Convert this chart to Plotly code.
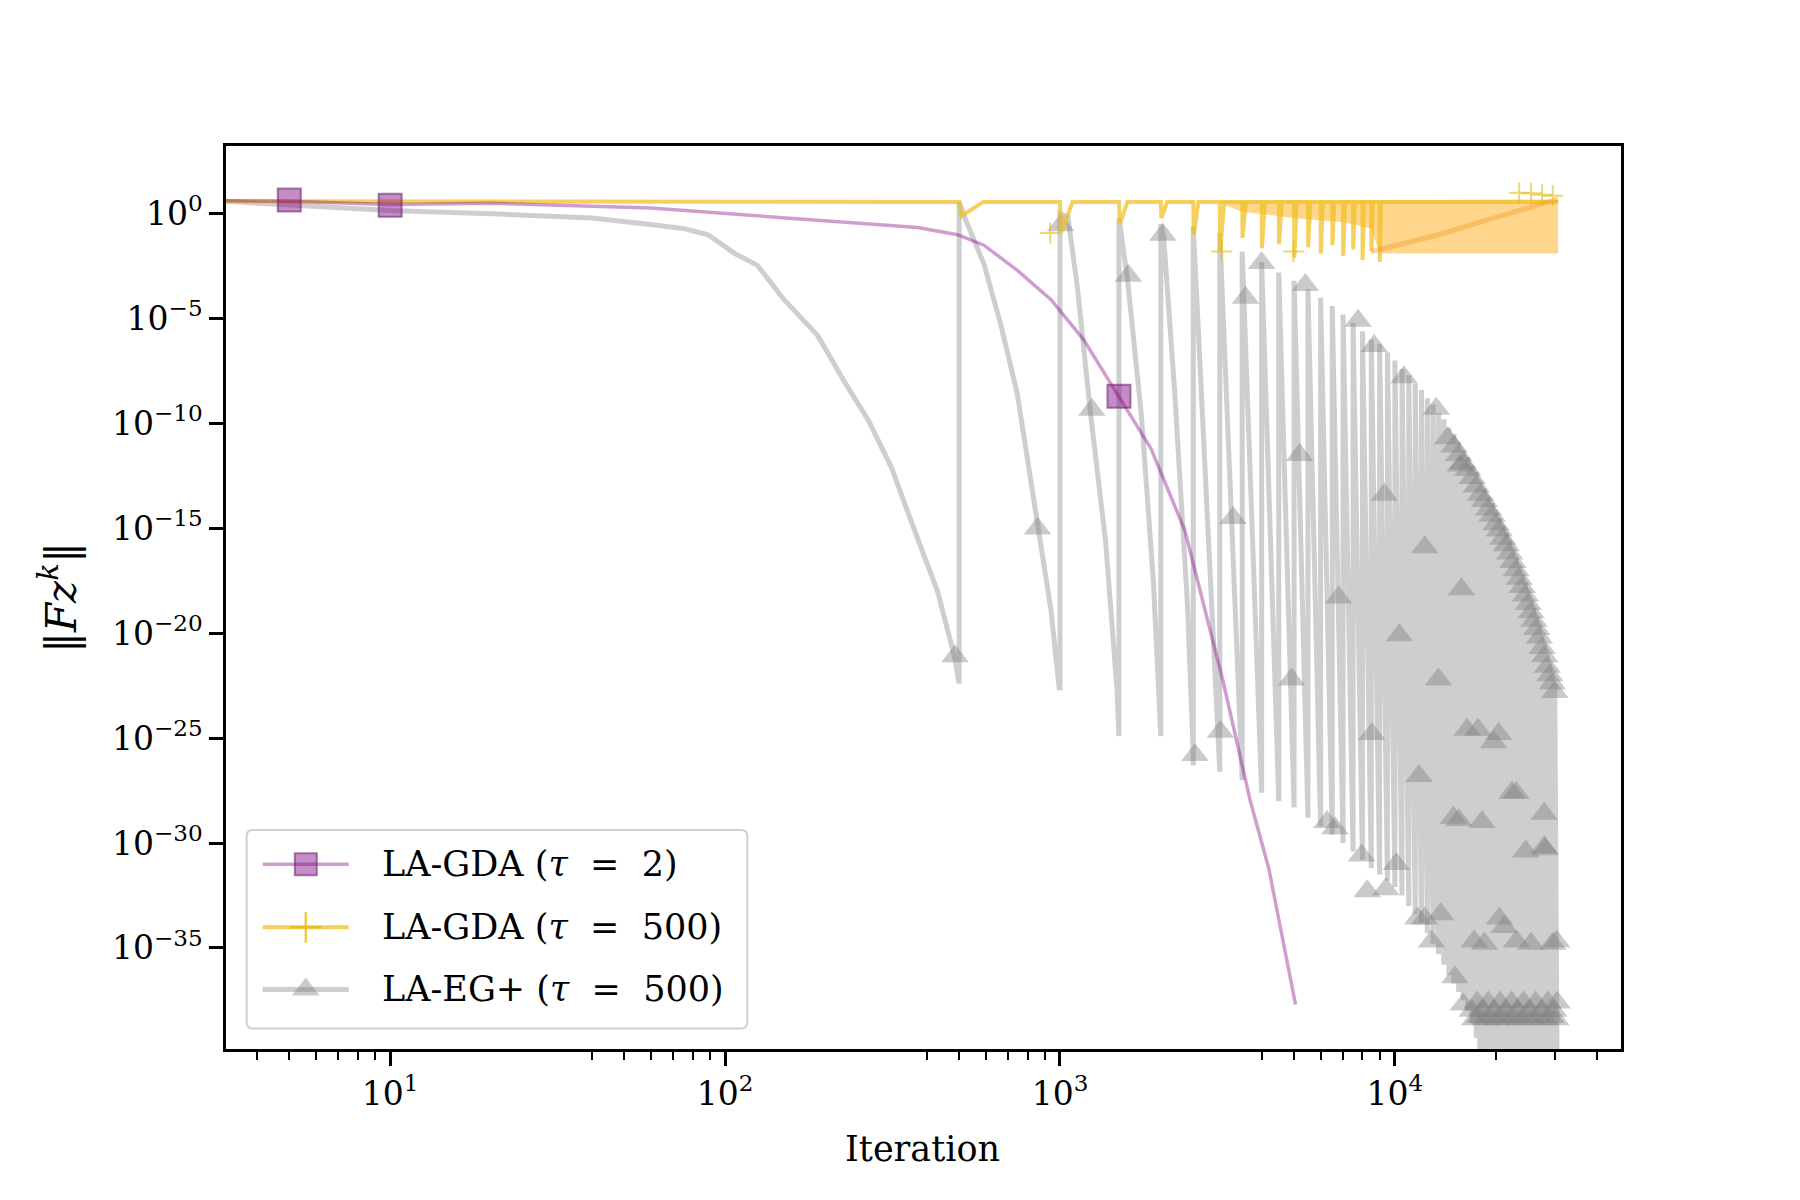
import plotly.graph_objects as go

SERIF = "DejaVu Serif, Liberation Serif, serif"

# ---- LA-GDA (tau = 2) : smooth decay, values as log10 ----
GDA2_X = [3, 5, 10, 20, 60, 118, 237, 376, 494, 593, 746, 940, 1176, 1488,
          1870, 2360, 2620, 3070, 3700, 4200, 5050]
GDA2_LOG10 = [0.62, 0.6, 0.44, 0.5, 0.27, -0.06, -0.4, -0.66, -1.0, -1.5, -2.7,
              -4.1, -6.0, -8.6, -11.2, -15.1, -18.0, -22.3, -28.0, -31.2, -37.7]
GDA2_MARK_X = [5, 10, 1500]
GDA2_MARK_LOG10 = [0.65, 0.4, -8.7]

# ---- LA-GDA (tau = 500) : flat, with a dip at every look-ahead restart ----
GDA500_START = [3, 0.6]
GDA500_TOP_LOG10 = 0.56
GDA500_END_X = 30700
GDA500_DIP_X = [500, 1000, 1500, 2000, 2500, 3000, 3500, 4000, 4500, 5000,
                5500, 6000, 6500, 7000, 7500, 8000, 8500, 9000]
GDA500_DIP_LOG10 = [-0.1, -0.9, -0.5, -0.2, -1.0, -1.8, -1.15, -1.65, -1.45, -2.1,
                    -1.6, -1.9, -1.5, -2.0, -1.7, -2.2, -1.8, -2.3]
# dense oscillation band at the end of the run
BAND_X = [3000, 3500, 5000, 7000, 8500, 9000, 12000, 20000, 30700]
BAND_HI_LOG10 = [0.62, 0.63, 0.64, 0.64, 0.64, 0.65, 0.66, 0.66, 0.68]
BAND_LO_LOG10 = [0.5, 0.1, -0.2, -0.4, -0.7, -1.9, -1.9, -1.9, -1.9]
TREND_X = [8500, 13500, 19800, 30700]
TREND_LOG10 = [-1.8, -1.0, -0.2, 0.7]
GDA500_MARK_X = [935, 3040, 4980, 23500, 25500, 27500, 29600]
GDA500_MARK_LOG10 = [-0.92, -1.8, -1.8, 1.0, 0.98, 0.9, 0.86]

# ---- LA-EG+ (tau = 500) : first cycles ----
EG_HEAD_X = [3, 10, 20, 40, 59, 75, 89, 107, 125, 150, 189, 227, 268, 314, 376, 431, 484, 498,
             500, 500, 519, 593, 666, 746, 860, 940, 994,
             1000, 1000, 1056, 1129, 1230, 1368, 1480,
             1500, 1500, 1590, 1750, 1900, 1990,
             2000, 2000, 2040, 2200, 2400, 2490]
EG_HEAD_LOG10 = [0.62, 0.15, 0.0, -0.2, -0.5, -0.7, -1.0, -1.9, -2.46, -4.1, -5.8, -8.0, -9.85,
                 -12.1, -15.5, -18.0, -21.1, -22.3,
                 -22.4, 0.55, -0.16, -2.4, -5.3, -8.6, -14.8, -18.9, -22.6,
                 -22.7, 0.0, -0.16, -3.6, -9.35, -15.6, -22.7,
                 -24.9, -0.2, -3.1, -9.6, -17.5, -23.5,
                 -24.9, -0.5, -1.15, -8.5, -18.5, -25.0]
# later cycles: value just after each restart (peak) and just before it (trough)
EG_RESTART_X = [2500, 3000, 3500, 4000, 4500, 5000, 5500, 6000, 6500, 7000,
                7500, 8000, 8500, 9000, 9500, 10000, 10500, 11000, 11500, 12000,
                12500, 13000, 13500, 14000, 14500, 15000, 15500, 16000, 16500, 17000,
                17500, 18000, 18500, 19000, 19500, 20000, 20500, 21000, 21500, 22000,
                22500, 23000, 23500, 24000, 24500, 25000, 25500, 26000, 26500, 27000,
                27500, 28000, 28500, 29000, 29500, 30000]
EG_PEAK_LOG10 = [-0.6, -0.9, -1.8, -2.3, -2.8, -3.2, -3.6, -4.0, -4.4, -4.8,
                 -5.2, -5.6, -6.0, -6.2, -6.6, -7.0, -7.4, -7.7, -8.1, -8.4,
                 -8.8, -9.1, -9.5, -9.8, -10.2, -10.5, -10.9, -11.3, -11.6, -12.0,
                 -12.3, -12.8, -13.1, -13.5, -13.8, -14.2, -14.5, -14.9, -15.2, -15.6,
                 -16.0, -16.4, -16.8, -17.2, -17.6, -18.0, -18.4, -18.8, -19.2, -19.6,
                 -20.1, -20.5, -21.0, -21.4, -21.9, -22.4]
EG_TROUGH_LOG10 = [-26.3, -26.6, -27.0, -27.6, -28.0, -28.3, -28.8, -29.2, -29.6, -30.0,
                   -30.4, -30.8, -31.2, -31.5, -31.8, -32.1, -32.5, -33.0, -33.4, -33.8,
                   -34.3, -34.8, -35.3, -35.8, -36.3, -36.7, -37.1, -37.5, -38.0, -38.6,
                   -39.3, -45, -45, -45, -45, -45, -45, -45, -45, -45,
                   -45, -45, -45, -45, -45, -45, -45, -45, -45, -45,
                   -45, -45, -45, -45, -45, -45]
EG_END = [30600, -45]
EG_MARK_X = [486, 857, 1245, 1005, 1600, 2028, 2530, 3013, 3284, 3580,
             4000, 4910, 5190, 5400, 6270, 6625, 6790, 7760, 7950, 8270,
             8530, 8670, 9300, 9400, 10100, 10310, 10640, 11700, 11800, 12270,
             12270, 12860, 13280, 13490, 13700, 14360, 14950, 15100, 15500, 15670,
             15790, 16000, 16430, 17230, 17700, 18200, 18500, 19700, 20400, 20500,
             21200, 22350, 23000, 23070, 24570, 25500, 27900, 27900, 28100, 29600, 30410,
             # dense run along the upper right edge
             15000, 15500, 16000, 16500, 17000, 17500, 18000, 18500, 19000, 19500,
             20000, 20500, 21000, 21500, 22000, 22500, 23000, 23500, 24000, 24500,
             25000, 25500, 26000, 26500, 27000, 27500, 28000, 28500, 29000, 29500, 30000,
             # dense run at the bottom
             17000, 17600, 18300, 19000, 19800, 20600, 21400, 22300, 23200, 24200,
             25200, 26300, 27400, 28600, 29800, 30500,
             17300, 17900, 18600, 19400, 20200, 21000, 21800, 22700, 23700, 24700,
             25700, 26800, 28000, 29200, 30200]
EG_MARK_LOG10 = [-21.1, -15.0, -9.35, -0.55, -2.95, -1.0, -25.8, -24.7, -14.5, -4.0,
                 -2.35, -22.2, -11.5, -3.4, -29.0, -29.3, -18.3, -5.1, -30.6, -32.3,
                 -24.8, -6.3, -13.4, -32.2, -31.0, -20.1, -7.8, -33.6, -26.8, -15.9,
                 -33.6, -34.7, -9.3, -22.2, -33.4, -10.7, -28.8, -36.4, -28.9, -12.0,
                 -17.9, -37.7, -24.6, -34.7, -24.6, -29.0, -34.8, -25.2, -24.8, -33.6,
                 -34.0, -27.6, -27.6, -34.7, -30.4, -34.8, -28.6, -30.2, -30.3, -34.8, -34.7,
                 -11.1, -11.5, -11.9, -12.2, -12.6, -13.0, -13.4, -13.7, -14.1, -14.4,
                 -14.8, -15.1, -15.5, -15.8, -16.2, -16.6, -17.0, -17.4, -17.8, -18.2,
                 -18.6, -19.0, -19.4, -19.8, -20.2, -20.7, -21.1, -21.6, -22.0, -22.4, -22.8,
                 -38.0, -37.6, -38.0, -37.6, -38.0, -37.6, -38.0, -37.6, -38.0, -37.6,
                 -38.0, -37.6, -38.0, -37.6, -38.0, -37.6,
                 -38.4, -38.3, -38.4, -38.3, -38.4, -38.3, -38.4, -38.3, -38.4, -38.3,
                 -38.4, -38.3, -38.4, -38.3, -38.4]

LEGEND_LABELS = ["LA-GDA (<i>τ</i>\u00a0 = \u00a02)",
                 "LA-GDA (<i>τ</i>\u00a0 = \u00a0500)",
                 "LA-EG+ (<i>τ</i>\u00a0 = \u00a0500)"]

PURPLE_LINE = "rgba(128,0,128,0.38)"
PURPLE_MARK = "rgba(128,0,128,0.45)"
PURPLE_EDGE = "rgba(110,40,110,0.6)"
ORANGE_LINE = "rgba(240,190,30,0.72)"
ORANGE_BAND = "rgba(255,165,0,0.45)"
ORANGE_MARK = "rgba(225,190,20,0.75)"
GREY_LINE = "rgba(135,138,142,0.42)"
GREY_MARK = "rgba(128,128,132,0.42)"


def pow10(vals):
    return [10 ** v for v in vals]


# build the LA-EG+ path: head, then vertical restart + descent for each later cycle
eg_x = list(EG_HEAD_X)
eg_log = list(EG_HEAD_LOG10)
for rx, pk, tr in zip(EG_RESTART_X, EG_PEAK_LOG10, EG_TROUGH_LOG10):
    eg_x += [rx, rx]
    eg_log += [tr, pk]
eg_x.append(EG_END[0])
eg_log.append(EG_END[1])

# build the LA-GDA (tau=500) path with its restart dips
or_x = [GDA500_START[0]]
or_log = [GDA500_START[1]]
for rx, d in zip(GDA500_DIP_X, GDA500_DIP_LOG10):
    or_x += [rx, rx + 8, rx + 90]
    or_log += [GDA500_TOP_LOG10, d, GDA500_TOP_LOG10]
or_x.append(GDA500_END_X)
or_log.append(GDA500_TOP_LOG10)

fig = go.Figure()
skip = dict(showlegend=False, hoverinfo="skip")

fig.add_trace(go.Scatter(x=eg_x, y=pow10(eg_log), mode="lines",
                         line=dict(color=GREY_LINE, width=5), **skip))
fig.add_trace(go.Scatter(
    x=EG_MARK_X, y=pow10(EG_MARK_LOG10), mode="markers",
    marker=dict(symbol="triangle-up", size=24, color=GREY_MARK, line=dict(width=0)), **skip))

fig.add_trace(go.Scatter(
    x=BAND_X + BAND_X[::-1], y=pow10(BAND_HI_LOG10 + BAND_LO_LOG10[::-1]),
    mode="lines", fill="toself", fillcolor=ORANGE_BAND, line=dict(width=0), **skip))
fig.add_trace(go.Scatter(x=or_x, y=pow10(or_log), mode="lines",
                         line=dict(color=ORANGE_LINE, width=4), **skip))
fig.add_trace(go.Scatter(x=TREND_X, y=pow10(TREND_LOG10), mode="lines",
                         line=dict(color="rgba(245,160,40,0.45)", width=5), **skip))
fig.add_trace(go.Scatter(
    x=GDA500_MARK_X, y=pow10(GDA500_MARK_LOG10), mode="markers",
    marker=dict(symbol="cross-thin", size=15, line=dict(color="rgba(225,190,20,0.6)", width=2)),
    **skip))

fig.add_trace(go.Scatter(x=GDA2_X, y=pow10(GDA2_LOG10), mode="lines",
                         line=dict(color=PURPLE_LINE, width=3.5), **skip))
fig.add_trace(go.Scatter(
    x=GDA2_MARK_X, y=pow10(GDA2_MARK_LOG10), mode="markers",
    marker=dict(symbol="square", size=23, color=PURPLE_MARK, line=dict(color=PURPLE_EDGE, width=2)),
    **skip))

# ---- hand-drawn legend (matplotlib style) on an overlay axis in [0, 1] ----
leg_rows = [0.2045, 0.1347, 0.0660]
leg_line = [0.0263, 0.0880]
leg_mark = 0.0572
leg_styles = [
    (dict(color=PURPLE_LINE, width=3.5),
     dict(symbol="square", size=22, color=PURPLE_MARK, line=dict(color=PURPLE_EDGE, width=2))),
    (dict(color=ORANGE_LINE, width=4),
     dict(symbol="cross-thin", size=22, line=dict(color=ORANGE_MARK, width=2.5))),
    (dict(color=GREY_LINE, width=5),
     dict(symbol="triangle-up", size=24, color=GREY_MARK)),
]
for row, (ln, mk), label in zip(leg_rows, leg_styles, LEGEND_LABELS):
    fig.add_trace(go.Scatter(x=leg_line, y=[row, row], mode="lines", line=ln,
                             xaxis="x2", yaxis="y2", **skip))
    fig.add_trace(go.Scatter(x=[leg_mark], y=[row], mode="markers", marker=mk,
                             xaxis="x2", yaxis="y2", **skip))
    fig.add_annotation(text=label, x=0.1103, y=row, xref="paper", yref="paper",
                       xanchor="left", yanchor="middle", showarrow=False,
                       font=dict(family=SERIF, size=35, color="black"))

bx0, bx1, by0, by1 = 0.0148, 0.3737, 0.0227, 0.2426
rx, ry = 0.0045, 0.007
fig.add_shape(
    type="path", xref="paper", yref="paper", layer="below",
    path=(f"M {bx0+rx},{by0} L {bx1-rx},{by0} Q {bx1},{by0} {bx1},{by0+ry} "
          f"L {bx1},{by1-ry} Q {bx1},{by1} {bx1-rx},{by1} L {bx0+rx},{by1} "
          f"Q {bx0},{by1} {bx0},{by1-ry} L {bx0},{by0+ry} Q {bx0},{by0} {bx0+rx},{by0} Z"),
    fillcolor="rgba(255,255,255,0.8)", line=dict(color="#d0d0d0", width=2))

x_minor = [v * d for d in (1, 10, 100, 1000) for v in range(4, 10)] + [20000, 30000, 40000]

fig.update_layout(
    xaxis=dict(
        type="log", range=[0.51, 4.675],
        showline=True, mirror=True, linecolor="black", linewidth=2.5,
        showgrid=False, zeroline=False,
        ticks="outside", ticklen=14, tickwidth=2.5, tickcolor="black",
        tickvals=[10, 100, 1000, 10000],
        ticktext=["10<sup>1</sup>", "10<sup>2</sup>", "10<sup>3</sup>", "10<sup>4</sup>"],
        tickfont=dict(family=SERIF, size=33, color="black"),
        minor=dict(ticks="outside", ticklen=8, tickwidth=2, tickcolor="black",
                   tickvals=x_minor, showgrid=False),
    ),
    xaxis2=dict(overlaying="x", range=[0, 1], visible=False, fixedrange=True),
    yaxis2=dict(overlaying="y", range=[0, 1], visible=False, fixedrange=True),
)
y_ticks = [0, -5, -10, -15, -20, -25, -30, -35]
fig.update_layout(yaxis=dict(
    type="log", range=[-39.82, 3.23],
    showline=True, mirror=True, linecolor="black", linewidth=2.5,
    showgrid=False, zeroline=False,
    ticks="outside", ticklen=14, tickwidth=2.5, tickcolor="black",
    tickvals=[10.0 ** t for t in y_ticks],
    ticktext=["10<sup>%s</sup>" % (str(t).replace("-", "−")) for t in y_ticks],
    tickfont=dict(family=SERIF, size=33, color="black"),
))

fig.add_annotation(
    text="Iteration", x=0.499, y=-0.111, xref="paper", yref="paper",
    xanchor="center", yanchor="middle", showarrow=False,
    font=dict(family=SERIF, size=35, color="black"))
fig.add_annotation(
    text="‖<i>Fz</i><sup><i>k</i></sup>‖", x=-0.12, y=0.5, xref="paper", yref="paper",
    xanchor="center", yanchor="middle", showarrow=False, textangle=-90,
    font=dict(family=SERIF, size=42, color="black"))

fig.update_layout(
    width=1800, height=1200,
    margin=dict(l=218, r=187, t=138, b=159),
    paper_bgcolor="white", plot_bgcolor="white",
    font=dict(family=SERIF, color="black"),
    showlegend=False,
)

fig.write_html("out.html")
